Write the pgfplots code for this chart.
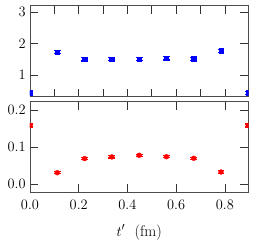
\documentclass[border=0pt]{standalone}
\usepackage{pgfplots}
\pgfplotsset{compat=1.18}
\begin{document}
\fontsize{15.5}{18}\selectfont
\begin{tikzpicture}
\useasboundingbox (-30pt,-148.3pt) rectangle (225pt,96.7pt);
\pgfplotsset{
  every axis/.append style={
    scale only axis, width=218.3pt, height=91pt,
    xmin=0, xmax=0.896,
    axis line style={draw=black!70, line width=0.9pt},
    tick style={draw=black!80, line width=0.7pt},
    major tick length=8pt,
    tick align=inside,
    xtick pos=both, ytick pos=both,
    clip marker paths=true,
    tick label style={font=\fontsize{15.5}{18}\selectfont},
    label style={font=\fontsize{15.5}{18}\selectfont},
  },
}
\begin{axis}[name=top, at={(0,0)}, anchor=south west,
  ymin=0.31, ymax=3.21, ytick={1,2,3},
  yticklabel style={xshift=1pt},
  xtick={0.1,0.2,...,0.8}, xticklabels={},
]
\addplot[only marks, blue, mark=square*, mark size=2.2pt,
  error bars/.cd, y dir=both, y explicit, error bar style={line width=1.4pt, blue}, error mark options={rotate=90, mark size=3.4pt, line width=1.2pt}]
coordinates {
(0,0.435) +- (0,0.05)
(0.112,1.725) +- (0,0.05)
(0.224,1.50) +- (0,0.05)
(0.336,1.51) +- (0,0.05)
(0.448,1.51) +- (0,0.05)
(0.560,1.53) +- (0,0.05)
(0.672,1.52) +- (0,0.05)
(0.784,1.77) +- (0,0.05)
(0.896,0.435) +- (0,0.05)
};
\end{axis}
\begin{axis}[name=bot, at={(0,-5pt)}, anchor=north west,
  height=90.6pt,
  ymin=-0.0215, ymax=0.222, ytick={0,0.1,0.2},
  yticklabel style={xshift=1pt, /pgf/number format/.cd, fixed, fixed zerofill, precision=1},
  xtick={0,0.2,...,0.8},
  xticklabel style={yshift=-3pt, /pgf/number format/.cd, fixed, fixed zerofill, precision=1},
  xlabel={$t'$\ \ (fm)},
  xlabel style={yshift=-4pt},
]
\addplot[only marks, red, mark=*, mark size=2.4pt,
  error bars/.cd, y dir=both, y explicit, error bar style={line width=1.4pt, red}, error mark options={rotate=90, mark size=3.4pt, line width=1.2pt}]
coordinates {
(0,0.158) +- (0,0.004)
(0.112,0.031) +- (0,0.003)
(0.224,0.069) +- (0,0.003)
(0.336,0.0735) +- (0,0.003)
(0.448,0.078) +- (0,0.003)
(0.560,0.074) +- (0,0.003)
(0.672,0.070) +- (0,0.003)
(0.784,0.033) +- (0,0.003)
(0.896,0.158) +- (0,0.004)
};
\end{axis}
\end{tikzpicture}
\end{document}
